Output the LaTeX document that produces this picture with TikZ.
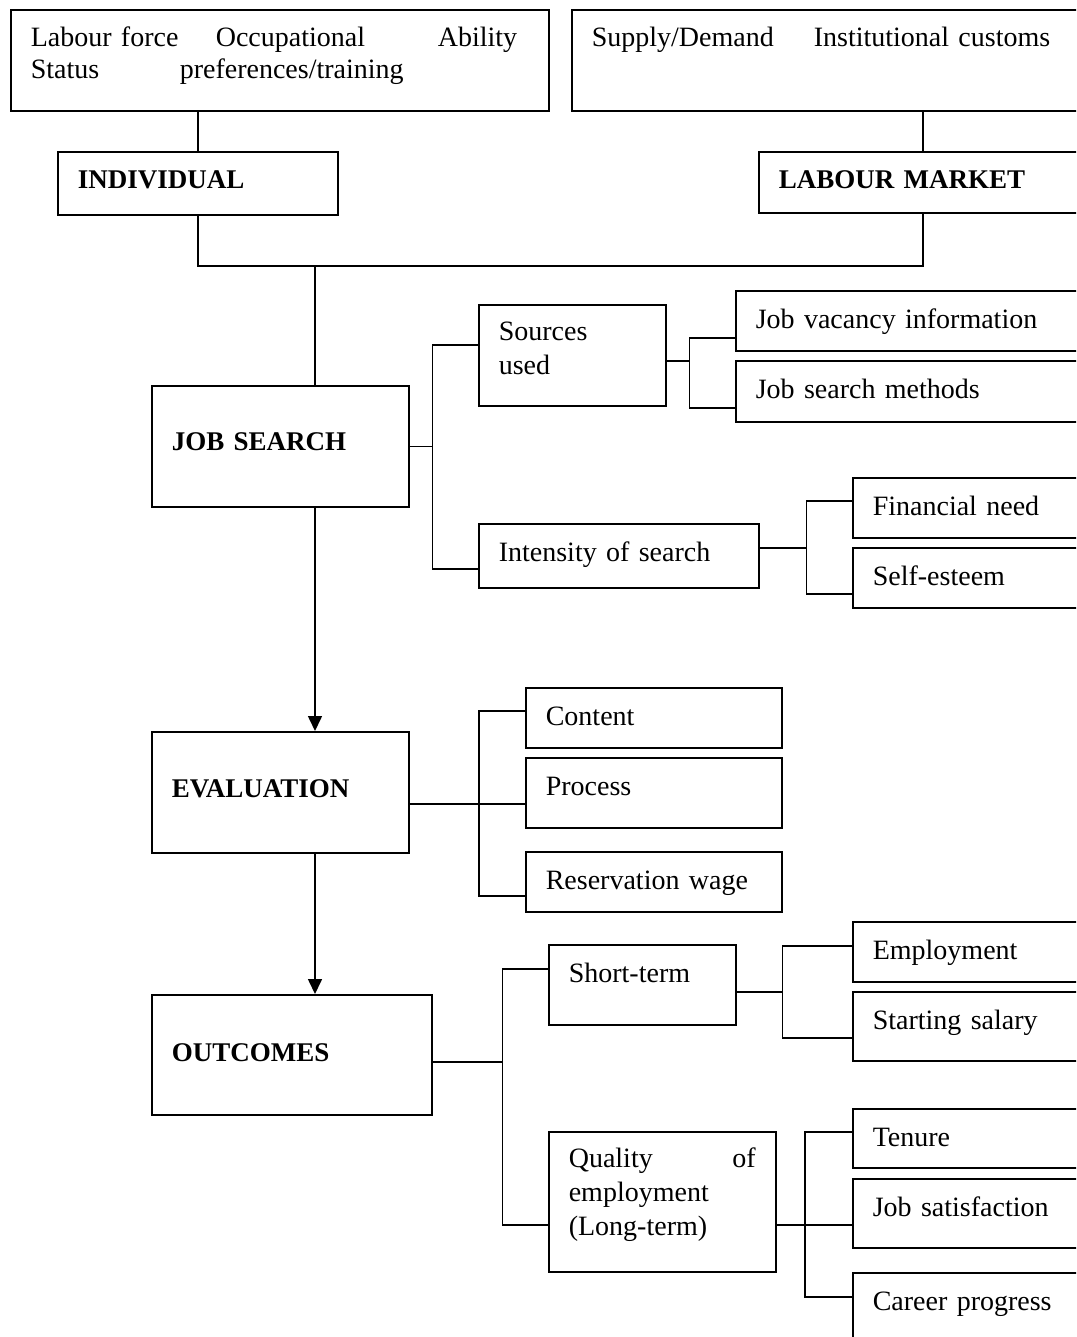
\documentclass[tikz,border=0pt]{standalone}
\usepackage{fontspec}
\setmainfont{Liberation Serif}
\usetikzlibrary{arrows.meta}

\newcommand\headtxt[1]{{\fontsize{27}{34}\selectfont\bfseries #1}}
\def\boxtop{38}
\tikzset{
  firstline/.code={\def\boxtop{#1}},
  box/.code 2 args={%
    \pgfmathsetmacro\boxtw{#1-40}%
    \pgfmathsetmacro\boxtd{#2-\boxtop}%
    \edef\boxkeys{text width=\boxtw pt, minimum height=#2pt,
      text height=\boxtop pt, text depth=\boxtd pt}%
    \expandafter\pgfkeysalso\expandafter{\boxkeys}%
    \pgfkeysalso{draw, line width=1.6pt, anchor=north west,
      inner xsep=20pt, inner ysep=0pt, align=left,
      font=\fontsize{28}{34}\selectfont}},
  arr/.style={-{Triangle[length=15pt,width=14pt]}}
}

\begin{document}
\begin{tikzpicture}[x=1pt,y=-1pt,line width=1.6pt]
\useasboundingbox (0,0) rectangle (1076,1337);
\clip (0,0) rectangle (1076,1337);

% factors
\node[firstline=37,box={538}{101}] (ifac) at (10,9)
  {\makebox[185pt][l]{Labour force}\makebox[222pt][l]{Occupational}Ability\\[-2pt]
   \makebox[149pt][l]{Status}preferences/training};
\node[firstline=37,box={702}{101}] (mfac) at (571,9)
  {\makebox[222pt][l]{Supply/Demand}Institutional customs};
\node[firstline=37,box={280}{63}] (indiv) at (57,151) {\headtxt{INDIVIDUAL}};
\node[firstline=37,box={328}{61}] (lmkt) at (758,151) {\headtxt{LABOUR MARKET}};

% job search
\node[firstline=65,box={257}{121}] (jsearch) at (151,385) {\headtxt{JOB SEARCH}};
\node[firstline=36,box={187}{101}] (src) at (478,304) {Sources\\used};
\node[box={400}{60}] (jvac) at (735,290) {Job vacancy information};
\node[box={400}{61}] (jmeth) at (735,360) {Job search methods};
\node[box={280}{64}] (intens) at (478,523) {Intensity of search};
\node[box={300}{60}] (fin) at (852,477) {Financial need};
\node[box={300}{60}] (self) at (852,547) {Self-esteem};

% evaluation
\node[firstline=66,box={257}{121}] (eval) at (151,731) {\headtxt{EVALUATION}};
\node[box={256}{60}] (content) at (525,687) {Content};
\node[box={256}{70}] (process) at (525,757) {Process};
\node[box={256}{60}] (reswage) at (525,851) {Reservation wage};

% outcomes
\node[firstline=67,box={280}{120}] (outc) at (151,994) {\headtxt{OUTCOMES}};
\node[box={187}{80}] (short) at (548,944) {Short-term};
\node[firstline=36,box={227}{140}] (quality) at (548,1131)
  {Quality\hfill of\\employment\\(Long-term)};
\node[box={300}{60}] (employ) at (852,921) {Employment};
\node[box={300}{69}] (salary) at (852,991) {Starting salary};
\node[box={300}{59}] (tenure) at (852,1108) {Tenure};
\node[box={300}{69}] (jsat) at (852,1178) {Job satisfaction};
\node[box={300}{100}] (career) at (852,1272) {Career progress};

% top connectors
\coordinate (join) at (315,266);
\draw (indiv.north) -- (indiv.north |- ifac.south);
\draw (lmkt.north) -- (mfac.south);
\draw (indiv.south) |- (join) -| (lmkt.south);
\draw (join) -- (join |- jsearch.north);

% main arrows
\draw[arr] (jsearch.south -| join) -- (eval.north -| join);
\draw[arr] (eval.south -| join) -- (outc.north -| join);

% branches
\draw (jsearch.east) -- ++(23,0) coordinate (b1);
\draw ([yshift=10.5pt]src.west) -| (b1) |- ([yshift=-13pt]intens.west);
\draw ([yshift=-5.5pt]src.east) -- ++(23,0) coordinate (b2);
\draw ([yshift=-17pt]jvac.west) -| (b2) |- ([yshift=-16.5pt]jmeth.west);
\draw ([yshift=8pt]intens.east) -- ++(47,0) coordinate (b3);
\draw ([yshift=7pt]fin.west) -| (b3) |- ([yshift=-16pt]self.west);

\draw ([yshift=-11.5pt]eval.east) -- ([yshift=-11pt]process.west);
\draw ([yshift=7pt]content.west) -- ++(-46,0) |- ([yshift=-14pt]reswage.west);

\draw ([yshift=-7pt]outc.east) -- ++(70,0) coordinate (b5);
\draw ([yshift=16pt]short.west) -| (b5) |- ([yshift=-23pt]quality.west);
\draw ([yshift=-7pt]short.east) -- ++(46,0) coordinate (b6);
\draw ([yshift=6pt]employ.west) -| (b6) |- ([yshift=-11.5pt]salary.west);
\draw ([yshift=-23pt]quality.east) -- ([yshift=-11.5pt]jsat.west);
\draw ([yshift=6.5pt]tenure.west) -- ++(-47,0) |- ([yshift=26pt]career.west);
\end{tikzpicture}
\end{document}
